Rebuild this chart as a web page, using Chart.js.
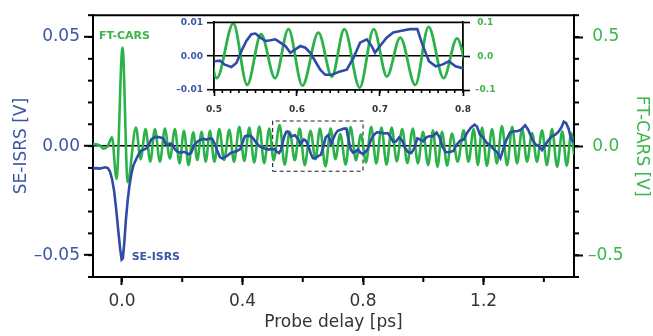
<!DOCTYPE html>
<html>
<head>
<meta charset="utf-8">
<script src="https://cdn.jsdelivr.net/npm/chart.js@4.4.0/dist/chart.umd.min.js"></script>
<style>
  html, body { margin: 0; padding: 0; background: #fff; }
  #wrap { position: relative; width: 653px; height: 336px; }
  #main { position: absolute; left: 0; top: 0; }
  #inset { position: absolute; left: 160px; top: 12px; }
</style>
</head>
<body>
<div id="wrap">
  <canvas id="main" width="653" height="336"></canvas>
  <canvas id="inset" width="360" height="110"></canvas>
</div>
<script>
// SE-ISRS trace (left axis, V)
const seDelay = [
  -0.096, -0.085, -0.075, -0.065, -0.055, -0.047, -0.040, -0.033, -0.026, -0.019,
  -0.012, -0.006, -0.001, 0.003, 0.008, 0.013, 0.019, 0.025, 0.031, 0.038,
  0.048, 0.058, 0.066, 0.075, 0.082, 0.090, 0.098, 0.108, 0.118, 0.128,
  0.138, 0.145, 0.152, 0.160, 0.168, 0.176, 0.186, 0.196, 0.206, 0.214,
  0.222, 0.230, 0.240, 0.250, 0.260, 0.270, 0.282, 0.292, 0.300, 0.308,
  0.316, 0.325, 0.334, 0.343, 0.352, 0.362, 0.372, 0.382, 0.392, 0.400,
  0.408, 0.418, 0.428, 0.436, 0.446, 0.456, 0.466, 0.476, 0.486, 0.494,
  0.501, 0.507, 0.513, 0.521, 0.527, 0.533, 0.539, 0.545, 0.550, 0.556,
  0.562, 0.568, 0.574, 0.580, 0.586, 0.592, 0.598, 0.604, 0.610, 0.616,
  0.622, 0.628, 0.634, 0.642, 0.652, 0.660, 0.668, 0.676, 0.684, 0.690,
  0.694, 0.700, 0.708, 0.716, 0.726, 0.736, 0.745, 0.751, 0.759, 0.767,
  0.775, 0.783, 0.791, 0.799, 0.806, 0.815, 0.824, 0.835, 0.846, 0.858,
  0.870, 0.882, 0.892, 0.900, 0.910, 0.920, 0.930, 0.940, 0.950, 0.960,
  0.970, 0.980, 0.990, 1.000, 1.010, 1.020, 1.032, 1.044, 1.054, 1.064,
  1.075, 1.088, 1.100, 1.110, 1.122, 1.134, 1.145, 1.158, 1.170, 1.178,
  1.188, 1.198, 1.210, 1.222, 1.234, 1.246, 1.256, 1.266, 1.276, 1.288,
  1.300, 1.312, 1.324, 1.338, 1.348, 1.360, 1.372, 1.382, 1.394, 1.404,
  1.414, 1.426, 1.438, 1.448, 1.458, 1.466, 1.474, 1.482, 1.490, 1.500
];
const seSignal = [
  -0.0102, -0.0101, -0.0103, -0.0100, -0.0097, -0.0101, -0.0115, -0.0150, -0.0205, -0.0290,
  -0.0390, -0.0470, -0.0520, -0.0515, -0.0440, -0.0340, -0.0250, -0.0180, -0.0130, -0.0088,
  -0.0058, -0.0030, -0.0019, -0.0015, -0.0009, 0.0010, 0.0032, 0.0040, 0.0042, 0.0039,
  0.0035, 0.0010, 0.0005, 0.0012, 0.0006, -0.0015, -0.0027, -0.0030, -0.0026, -0.0031,
  -0.0038, -0.0030, 0.0005, 0.0020, 0.0028, 0.0033, 0.0030, 0.0035, 0.0032, 0.0010,
  -0.0020, -0.0050, -0.0057, -0.0050, -0.0042, -0.0030, -0.0027, -0.0022, -0.0015, 0.0015,
  0.0045, 0.0048, 0.0046, 0.0035, 0.0015, 0.0000, -0.0008, -0.0012, -0.0016, -0.0013,
  -0.0015, -0.0013, -0.0025, -0.0032, -0.0020, 0.0015, 0.0045, 0.0065, 0.0067, 0.0055,
  0.0045, 0.0047, 0.0050, 0.0040, 0.0030, 0.0010, 0.0020, 0.0030, 0.0025, 0.0010,
  -0.0015, -0.0040, -0.0055, -0.0055, -0.0045, -0.0040, -0.0005, 0.0040, 0.0050, 0.0030,
  0.0010, 0.0030, 0.0055, 0.0070, 0.0075, 0.0080, 0.0080, 0.0035, -0.0015, -0.0030,
  -0.0025, -0.0015, -0.0030, -0.0035, -0.0030, -0.0015, 0.0020, 0.0050, 0.0063, 0.0062,
  0.0058, 0.0060, 0.0040, 0.0020, 0.0022, 0.0040, 0.0025, -0.0010, -0.0028, -0.0032,
  -0.0010, 0.0035, 0.0030, 0.0022, 0.0040, 0.0045, 0.0045, 0.0062, 0.0040, -0.0005,
  -0.0028, -0.0027, -0.0022, 0.0005, 0.0025, 0.0030, 0.0060, 0.0085, 0.0098, 0.0090,
  0.0052, 0.0040, 0.0015, 0.0004, -0.0015, -0.0030, -0.0055, -0.0010, 0.0030, 0.0063,
  0.0068, 0.0068, 0.0075, 0.0095, 0.0075, 0.0035, 0.0008, 0.0002, -0.0018, 0.0005,
  0.0025, 0.0045, 0.0052, 0.0065, 0.0085, 0.0112, 0.0105, 0.0080, 0.0035, 0.0015
];

// FT-CARS trace (right axis, V): turning points of the oscillation
const ftDelay = [
  -0.096, -0.086, -0.072, -0.061, -0.048, -0.033, -0.018, 0.002, 0.019, 0.0465,
  0.062, 0.0785, 0.094, 0.1094, 0.126, 0.1426, 0.159, 0.1758, 0.191, 0.2057,
  0.221, 0.2367, 0.250, 0.2643, 0.278, 0.292, 0.307, 0.323, 0.339, 0.3562,
  0.372, 0.3894, 0.406, 0.4226, 0.439, 0.456, 0.472, 0.489, 0.5033, 0.5233,
  0.540, 0.5567, 0.5736, 0.5897, 0.6065, 0.6258, 0.642, 0.657, 0.6755, 0.6924,
  0.7083, 0.7244, 0.7425, 0.7585, 0.7766, 0.7928, 0.810, 0.827, 0.844, 0.861,
  0.878, 0.895, 0.912, 0.930, 0.947, 0.965, 0.982, 0.999, 1.016, 1.032,
  1.047, 1.062, 1.079, 1.095, 1.114, 1.134, 1.150, 1.167, 1.181, 1.195,
  1.211, 1.228, 1.244, 1.261, 1.278, 1.295, 1.311, 1.328, 1.344, 1.361,
  1.377, 1.394, 1.410, 1.427, 1.444, 1.461, 1.476, 1.491, 1.500
];
const ftSignal = [
  0.010, 0.008, 0.002, -0.012, -0.002, 0.040, -0.150, 0.452, -0.165, 0.085,
  -0.060, 0.078, -0.072, 0.078, -0.072, 0.080, -0.057, 0.078, -0.079, 0.070,
  -0.087, 0.063, -0.064, 0.065, -0.072, 0.070, -0.072, 0.078, -0.064, 0.075,
  -0.072, 0.089, -0.068, 0.085, -0.075, 0.090, -0.078, 0.080, -0.065, 0.097,
  -0.085, 0.065, -0.065, 0.080, -0.087, 0.070, -0.060, 0.080, -0.093, 0.080,
  -0.060, 0.055, -0.085, 0.087, -0.065, 0.053, -0.075, 0.088, -0.080, 0.085,
  -0.085, 0.085, -0.070, 0.078, -0.078, 0.080, -0.079, 0.065, -0.087, 0.072,
  -0.095, 0.065, -0.090, 0.058, -0.072, 0.072, -0.072, 0.078, -0.087, 0.085,
  -0.090, 0.078, -0.079, 0.092, -0.087, 0.088, -0.079, 0.078, -0.072, 0.060,
  -0.072, 0.072, -0.087, 0.078, -0.095, 0.068, -0.090, 0.060, -0.040
];

// window shown in the inset (dashed box)
const zoomDelay = [0.5, 0.8];
const zoomSignal = [-0.0115, 0.0115];

// tick labels
const delayTicks = [0.0, 0.4, 0.8, 1.2];
const seTicks = [-0.05, 0.00, 0.05];
const ftTicks = [-0.5, 0.0, 0.5];
const insetDelayTicks = [0.5, 0.6, 0.7, 0.8];
const insetSeTicks = [-0.01, 0.00, 0.01];
const insetFtTicks = [-0.1, 0.0, 0.1];

const BLUE = '#2f4aa8';
const GREEN = '#2bb34a';
const BLUE_TXT = '#3b56a6';
const GREEN_TXT = '#3cb54a';
const INK = '#333333';
const FONT = "'DejaVu Sans', sans-serif";

Chart.defaults.font.family = FONT;

function toPoints(xs, ys) {
  return xs.map((x, i) => ({ x: x, y: ys[i] }));
}
function fmt(digits) {
  return v => (v < 0 ? '\u2013' : '') + Math.abs(v).toFixed(digits);
}
function fixedTicks(values) {
  return scale => { scale.ticks = values.map(v => ({ value: v })); };
}
function zeroLine(ctx) {
  return ctx.tick && Math.abs(ctx.tick.value) < 1e-12 ? '#000' : 'rgba(0,0,0,0)';
}

// minor tick marks + top border of the frame
const frameTicks = {
  id: 'frameTicks',
  afterDraw(chart, args, opts) {
    const { ctx, chartArea } = chart;
    ctx.save();
    ctx.strokeStyle = '#000';
    ctx.lineWidth = opts.width;
    ctx.beginPath();
    ctx.moveTo(chartArea.left, chartArea.top);
    ctx.lineTo(chartArea.right, chartArea.top);
    ctx.stroke();
    for (const [id, step] of Object.entries(opts.steps)) {
      const s = chart.scales[id];
      const first = Math.ceil(s.min / step - 1e-6);
      for (let i = first; i * step <= s.max + 1e-9; i++) {
        const p = s.getPixelForValue(i * step);
        ctx.beginPath();
        if (s.isHorizontal()) {
          ctx.moveTo(p, s.top); ctx.lineTo(p, s.top + opts.length);
        } else if (s.position === 'left') {
          ctx.moveTo(s.right, p); ctx.lineTo(s.right - opts.length, p);
        } else {
          ctx.moveTo(s.left, p); ctx.lineTo(s.left + opts.length, p);
        }
        ctx.stroke();
      }
    }
    ctx.restore();
  }
};

// names written next to the FT-CARS peak and the SE-ISRS dip
const peakLabels = {
  id: 'peakLabels',
  afterDatasetsDraw(chart) {
    const { ctx, scales } = chart;
    const iMax = ftSignal.indexOf(Math.max(...ftSignal));
    const iMin = seSignal.indexOf(Math.min(...seSignal));
    ctx.save();
    ctx.font = 'bold 11px ' + FONT;
    ctx.textBaseline = 'middle';
    ctx.fillStyle = GREEN_TXT;
    ctx.textAlign = 'center';
    ctx.fillText('FT-CARS', scales.x.getPixelForValue(ftDelay[iMax]) + 2, scales.y2.getPixelForValue(ftSignal[iMax]) - 11);
    ctx.fillStyle = BLUE_TXT;
    ctx.textAlign = 'left';
    ctx.fillText('SE-ISRS', scales.x.getPixelForValue(seDelay[iMin]) + 10, scales.y.getPixelForValue(seSignal[iMin]) - 2);
    ctx.restore();
  }
};

const zoomBox = [
  { x: zoomDelay[0], y: zoomSignal[0] },
  { x: zoomDelay[1], y: zoomSignal[0] },
  { x: zoomDelay[1], y: zoomSignal[1] },
  { x: zoomDelay[0], y: zoomSignal[1] },
  { x: zoomDelay[0], y: zoomSignal[0] }
];

const mainChart = new Chart(document.getElementById('main'), {
  type: 'scatter',
  data: {
    datasets: [
      { label: 'SE-ISRS', data: toPoints(seDelay, seSignal), yAxisID: 'y', showLine: true,
        borderColor: BLUE, borderWidth: 2.6, pointRadius: 0, tension: 0 },
      { label: 'FT-CARS', data: toPoints(ftDelay, ftSignal), yAxisID: 'y2', showLine: true,
        borderColor: GREEN, borderWidth: 2.6, pointRadius: 0, cubicInterpolationMode: 'monotone' },
      { label: 'zoom', data: zoomBox, yAxisID: 'y', showLine: true,
        borderColor: '#222', borderWidth: 1.1, borderDash: [4, 3], pointRadius: 0 }
    ]
  },
  options: {
    responsive: false,
    animation: false,
    devicePixelRatio: 1,
    layout: { padding: { top: 10, left: 0, right: 0, bottom: 0 } },
    plugins: {
      legend: { display: false },
      tooltip: { enabled: false },
      frameTicks: { width: 2, length: 5, steps: { x: 0.2, y: 0.01, y2: 0.1 } }
    },
    scales: {
      x: {
        type: 'linear', position: 'bottom', min: -0.096, max: 1.5,
        afterFit: s => { s.height = 59; },
        afterBuildTicks: fixedTicks(delayTicks),
        ticks: { callback: fmt(1), color: INK, font: { size: 17 }, padding: 6, maxRotation: 0, autoSkip: false },
        grid: { drawOnChartArea: false, tickLength: 8, tickWidth: 2, tickColor: '#000' },
        border: { color: '#000', width: 2 },
        title: { display: true, text: 'Probe delay [ps]', color: INK, font: { size: 17 }, padding: { top: 0, bottom: 3 } }
      },
      y: {
        type: 'linear', position: 'left', min: -0.06, max: 0.06,
        afterFit: s => { s.width = 93; },
        afterBuildTicks: fixedTicks(seTicks),
        ticks: { callback: fmt(2), color: BLUE_TXT, font: { size: 17 }, padding: 4, autoSkip: false },
        grid: { drawOnChartArea: true, color: zeroLine, lineWidth: 1.6, tickLength: 9, tickWidth: 2, tickColor: '#000' },
        border: { color: '#000', width: 2 },
        title: { display: true, text: 'SE-ISRS [V]', color: BLUE_TXT, font: { size: 17 }, padding: { top: 11, bottom: 0 } }
      },
      y2: {
        type: 'linear', position: 'right', min: -0.6, max: 0.6,
        afterFit: s => { s.width = 79; },
        afterBuildTicks: fixedTicks(ftTicks),
        ticks: { callback: fmt(1), color: GREEN_TXT, font: { size: 17 }, padding: 5, crossAlign: 'center', autoSkip: false },
        grid: { drawOnChartArea: false, tickLength: 9, tickWidth: 2, tickColor: '#000' },
        border: { color: '#000', width: 2 },
        title: { display: true, text: 'FT-CARS [V]', color: GREEN_TXT, font: { size: 17 }, padding: { top: 1, bottom: 0 } }
      }
    }
  },
  plugins: [frameTicks, peakLabels]
});

const insetChart = new Chart(document.getElementById('inset'), {
  type: 'scatter',
  data: {
    datasets: [
      { label: 'SE-ISRS', data: toPoints(seDelay, seSignal), yAxisID: 'y', showLine: true,
        borderColor: BLUE, borderWidth: 2.6, pointRadius: 0, tension: 0 },
      { label: 'FT-CARS', data: toPoints(ftDelay, ftSignal), yAxisID: 'y2', showLine: true,
        borderColor: GREEN, borderWidth: 2.8, pointRadius: 0, cubicInterpolationMode: 'monotone' }
    ]
  },
  options: {
    responsive: false,
    animation: false,
    devicePixelRatio: 1,
    layout: { padding: { top: 10, left: 0, right: 0, bottom: 0 } },
    plugins: {
      legend: { display: false },
      tooltip: { enabled: false },
      frameTicks: { width: 1.6, length: 3, steps: { x: 0.01 } }
    },
    scales: {
      x: {
        type: 'linear', position: 'bottom', min: zoomDelay[0], max: zoomDelay[1],
        afterFit: s => { s.height = 32; },
        afterBuildTicks: fixedTicks(insetDelayTicks),
        ticks: { callback: fmt(1), color: INK, font: { size: 9, weight: 'bold' }, padding: 8, maxRotation: 0, autoSkip: false },
        grid: { drawOnChartArea: false, tickLength: 6, tickWidth: 1.6, tickColor: '#000' },
        border: { color: '#000', width: 1.8 }
      },
      y: {
        type: 'linear', position: 'left', min: -0.01, max: 0.01,
        afterFit: s => { s.width = 54; },
        afterBuildTicks: fixedTicks(insetSeTicks),
        ticks: { callback: fmt(2), color: BLUE_TXT, font: { size: 9, weight: 'bold' }, padding: 4, autoSkip: false },
        grid: { drawOnChartArea: true, color: zeroLine, lineWidth: 1.4, tickLength: 7, tickWidth: 1.6, tickColor: '#000' },
        border: { color: '#000', width: 1.8 }
      },
      y2: {
        type: 'linear', position: 'right', min: -0.1, max: 0.1,
        afterFit: s => { s.width = 57; },
        afterBuildTicks: fixedTicks(insetFtTicks),
        ticks: { callback: fmt(1), color: GREEN_TXT, font: { size: 9, weight: 'bold' }, padding: 5, crossAlign: 'center', autoSkip: false },
        grid: { drawOnChartArea: false, tickLength: 7, tickWidth: 1.6, tickColor: '#000' },
        border: { color: '#000', width: 1.8 }
      }
    }
  },
  plugins: [frameTicks]
});
</script>
</body>
</html>
